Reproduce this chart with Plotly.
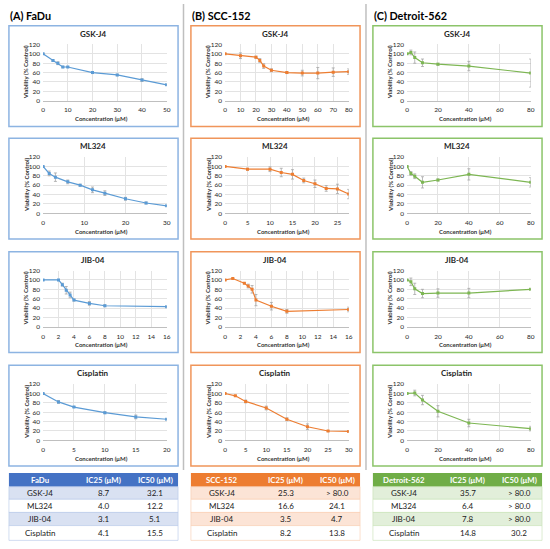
import plotly.graph_objects as go

# figure size (px)
W, H = 550, 549

# --------------------------
# data: concentration (uM), viability (% control), error
# --------------------------
FADU_GSK_X = [0, 4, 6, 8, 10, 20, 30, 40, 50]
FADU_GSK_Y = [100, 86, 80, 72, 72, 60, 55, 44, 34]
FADU_GSK_E = [0, 1.5, 3, 1.5, 1, 2, 1.5, 3, 1.5]

FADU_ML_X = [0, 1.5, 3, 6, 9, 12, 15, 20, 25, 30]
FADU_ML_Y = [100, 85, 77, 67, 60, 50, 43, 31, 22, 16]
FADU_ML_E = [0, 5, 9, 4, 2, 6, 5, 3, 2, 1]

FADU_JIB_X = [0, 2, 2.5, 3, 3.5, 4, 6, 8, 16]
FADU_JIB_Y = [100, 100, 90, 78, 68, 57, 50, 45, 43]
FADU_JIB_E = [0, 1, 3, 8, 6, 2, 4, 2, 1]

FADU_CIS_X = [0, 2.5, 5, 10, 15, 20]
FADU_CIS_Y = [100, 82, 71, 59, 50, 45]
FADU_CIS_E = [0, 3, 1, 2, 4, 1]

SCC_GSK_X = [0, 10, 20, 22.5, 25, 30, 40, 50, 60, 70, 80]
SCC_GSK_Y = [100, 96, 93, 86, 74, 65, 60, 59, 59, 61, 62]
SCC_GSK_E = [0, 6, 2, 4, 5, 3, 2, 6, 12, 9, 6]

SCC_ML_X = [0, 5, 10, 12.5, 15, 17.5, 20, 22.5, 25, 27.5]
SCC_ML_Y = [100, 94, 94, 87, 83, 70, 63, 53, 52, 41]
SCC_ML_E = [0, 2, 5, 9, 10, 5, 8, 6, 10, 10]

SCC_JIB_X = [0, 1, 2.5, 3, 3.5, 4, 6, 8, 16]
SCC_JIB_Y = [100, 103, 93, 87, 80, 57, 44, 33, 37]
SCC_JIB_E = [0, 1, 1, 4, 8, 12, 8, 4, 5]

SCC_CIS_X = [0, 2.5, 5, 10, 15, 20, 25, 30]
SCC_CIS_Y = [100, 95, 83, 69, 45, 29, 20, 19]
SCC_CIS_E = [0, 1, 3, 4, 3, 6, 1, 1]

DET_GSK_X = [0, 2.5, 5, 10, 20, 40, 80]
DET_GSK_Y = [100, 103, 92, 81, 78, 74, 59]
DET_GSK_E = [0, 5, 12, 8, 2, 10, 30]

DET_ML_X = [0, 2.5, 5, 10, 20, 40, 80]
DET_ML_Y = [100, 85, 79, 66, 71, 83, 66]
DET_ML_E = [0, 4, 5, 12, 2, 12, 10]

DET_JIB_X = [0, 2.5, 5, 10, 20, 40, 80]
DET_JIB_Y = [100, 96, 81, 71, 72, 72, 80]
DET_JIB_E = [0, 8, 12, 9, 9, 10, 1]

DET_CIS_X = [0, 5, 10, 20, 40, 80]
DET_CIS_Y = [100, 101, 86, 62, 37, 25]
DET_CIS_E = [0, 6, 10, 12, 8, 5]

DRUGS = ["GSK-J4", "ML324", "JIB-04", "Cisplatin"]
CELL_LINES = ["FaDu", "SCC-152", "Detroit-562"]
COL_LABELS = ["(A) FaDu", "(B) SCC-152", "(C) Detroit-562"]
TABLE_HEAD = ["IC25 (μM)", "IC50 (μM)"]

# x axis settings per panel: (max, dtick)
X_AXES = [
    [(50, 10), (30, 10), (16, 2), (20, 5)],
    [(80, 10), (27.5, 5), (16, 2), (30, 5)],
    [(80, 20), (80, 20), (80, 20), (80, 20)],
]

SERIES = [
    [(FADU_GSK_X, FADU_GSK_Y, FADU_GSK_E), (FADU_ML_X, FADU_ML_Y, FADU_ML_E),
     (FADU_JIB_X, FADU_JIB_Y, FADU_JIB_E), (FADU_CIS_X, FADU_CIS_Y, FADU_CIS_E)],
    [(SCC_GSK_X, SCC_GSK_Y, SCC_GSK_E), (SCC_ML_X, SCC_ML_Y, SCC_ML_E),
     (SCC_JIB_X, SCC_JIB_Y, SCC_JIB_E), (SCC_CIS_X, SCC_CIS_Y, SCC_CIS_E)],
    [(DET_GSK_X, DET_GSK_Y, DET_GSK_E), (DET_ML_X, DET_ML_Y, DET_ML_E),
     (DET_JIB_X, DET_JIB_Y, DET_JIB_E), (DET_CIS_X, DET_CIS_Y, DET_CIS_E)],
]

# IC table values
IC25 = [
    ["8.7", "4.0", "3.1", "4.1"],
    ["25.3", "16.6", "3.5", "8.2"],
    ["35.7", "6.4", "7.8", "14.8"],
]
IC50 = [
    ["32.1", "12.2", "5.1", "15.5"],
    ["> 80.0", "24.1", "4.7", "13.8"],
    ["> 80.0", "> 80.0", "> 80.0", "30.2"],
]

# colours per column
LINE_COLORS = ["#5B9BD5", "#ED7D31", "#7DB653"]
BOX_COLORS = ["#8DB4E2", "#F0955A", "#8CC46A"]
HEAD_COLORS = ["#4472C4", "#ED7D31", "#70AD47"]
BAND_COLORS = ["#D9E1F2", "#FCE4D6", "#E2EFDA"]
LINE_TABLE = ["#B4C6E7", "#F8CBAD", "#C6E0B4"]

FONT = "Lato"

# layout geometry (px)
COL_LEFT = [7, 191, 375]
BOX_W = 171
ROW_TOP = [22, 136, 251, 366]
BOX_H = 102
TABLE_ROWS = [475, 489, 501.7, 515, 528.3, 543.3]   # header top .. bottom
TABLE_TEXT_X = [31, 96, 148]                       # text centres from table left


def fx(x):
    return x / W


def fy(y):
    return 1 - y / H


fig = go.Figure()
layout = {}
shapes = []
annotations = []


def add_text(x, y, text, size, color, bold=False, xanchor="center", **kw):
    annotations.append(dict(x=fx(x), y=fy(y), xref="paper", yref="paper",
                            text=("<b>%s</b>" % text) if bold else text,
                            showarrow=False, xanchor=xanchor, yanchor="middle",
                            borderpad=0,
                            font=dict(family=FONT, size=size, color=color), **kw))


n = 0
for c in range(3):
    left = COL_LEFT[c]
    add_text(left, 12, COL_LABELS[c], 10.8, "#000000", bold=True, xanchor="left")
    for r in range(4):
        n += 1
        top = ROW_TOP[r]
        xs, ys, es = SERIES[c][r]
        xmax, dtick = X_AXES[c][r]
        xa = "x" if n == 1 else "x%d" % n
        ya = "y" if n == 1 else "y%d" % n

        fig.add_trace(go.Scatter(
            x=xs, y=ys, xaxis=xa, yaxis=ya, mode="lines+markers",
            line=dict(color=LINE_COLORS[c], width=1.2),
            marker=dict(symbol="square", size=3, color=LINE_COLORS[c]),
            error_y=dict(type="data", array=es, color="#A6A6A6",
                         thickness=0.8, width=1.5),
            showlegend=False, hoverinfo="x+y"))

        ax_common = dict(showgrid=True, gridcolor="#E3E3E3", gridwidth=0.7,
                         zeroline=False, ticks="",
                         tickfont=dict(family=FONT, size=6.5, color="#262626"))
        layout["xaxis" if n == 1 else "xaxis%d" % n] = dict(
            domain=[fx(left + 34.5), fx(left + 159.5)],
            anchor=ya, range=[0, xmax], dtick=dtick, tick0=0,
            showline=True, linecolor="#BFBFBF", linewidth=0.8,
            ticklabelstandoff=3, **ax_common)
        layout["yaxis" if n == 1 else "yaxis%d" % n] = dict(
            domain=[fy(top + 76), fy(top + 19)],
            anchor=xa, range=[0, 120], dtick=20, tick0=0,
            showline=False, ticklabelstandoff=2, **ax_common)

        # panel border
        shapes.append(dict(type="rect", xref="paper", yref="paper",
                           x0=fx(left), x1=fx(left + BOX_W),
                           y0=fy(top + BOX_H), y1=fy(top),
                           line=dict(color=BOX_COLORS[c], width=1.5)))
        # titles
        add_text(left + BOX_W / 2, top + 8, DRUGS[r], 8, "#1F1F1F", bold=True)
        add_text(left + 94, top + 94, "Concentration (μM)", 6, "#333333", bold=True)
        add_text(left + 17, top + 47.5, "Viability (% Control)", 6, "#333333",
                 bold=True, textangle=-90)

    # IC table: header + banded rows
    right = left + BOX_W
    shapes.append(dict(type="rect", xref="paper", yref="paper", layer="below",
                       x0=fx(left), x1=fx(right),
                       y0=fy(TABLE_ROWS[1]), y1=fy(TABLE_ROWS[0]),
                       fillcolor=HEAD_COLORS[c], line=dict(width=0)))
    head_y = (TABLE_ROWS[0] + TABLE_ROWS[1]) / 2
    for k, txt in enumerate([CELL_LINES[c]] + TABLE_HEAD):
        add_text(left + TABLE_TEXT_X[k], head_y, txt, 7.8, "#FFFFFF", bold=True)
    for i in range(4):
        y0, y1 = TABLE_ROWS[i + 1], TABLE_ROWS[i + 2]
        shapes.append(dict(type="rect", xref="paper", yref="paper", layer="below",
                           x0=fx(left), x1=fx(right), y0=fy(y1), y1=fy(y0),
                           fillcolor=BAND_COLORS[c] if i % 2 == 0 else "#FFFFFF",
                           line=dict(color=LINE_TABLE[c], width=0.6)))
        ym = (y0 + y1) / 2
        for k, txt in enumerate([DRUGS[i], IC25[c][i], IC50[c][i]]):
            add_text(left + TABLE_TEXT_X[k], ym, txt, 8, "#1A1A1A")

# column separators
for sx in [183.5, 368]:
    shapes.append(dict(type="line", xref="paper", yref="paper",
                       x0=fx(sx), x1=fx(sx), y0=fy(472), y1=fy(0),
                       line=dict(color="#BFBFBF", width=1.5)))

fig.update_layout(
    width=W, height=H, margin=dict(l=0, r=0, t=0, b=0),
    paper_bgcolor="#FFFFFF", plot_bgcolor="#FFFFFF",
    showlegend=False, shapes=shapes, annotations=annotations,
    font=dict(family=FONT), **layout)

# drop the browser's default body margin so the figure sits at 0,0
fig.write_html("out.html", config={"displayModeBar": False},
               post_script="document.body.style.margin='0px';"
                           "document.body.style.overflow='hidden';")
